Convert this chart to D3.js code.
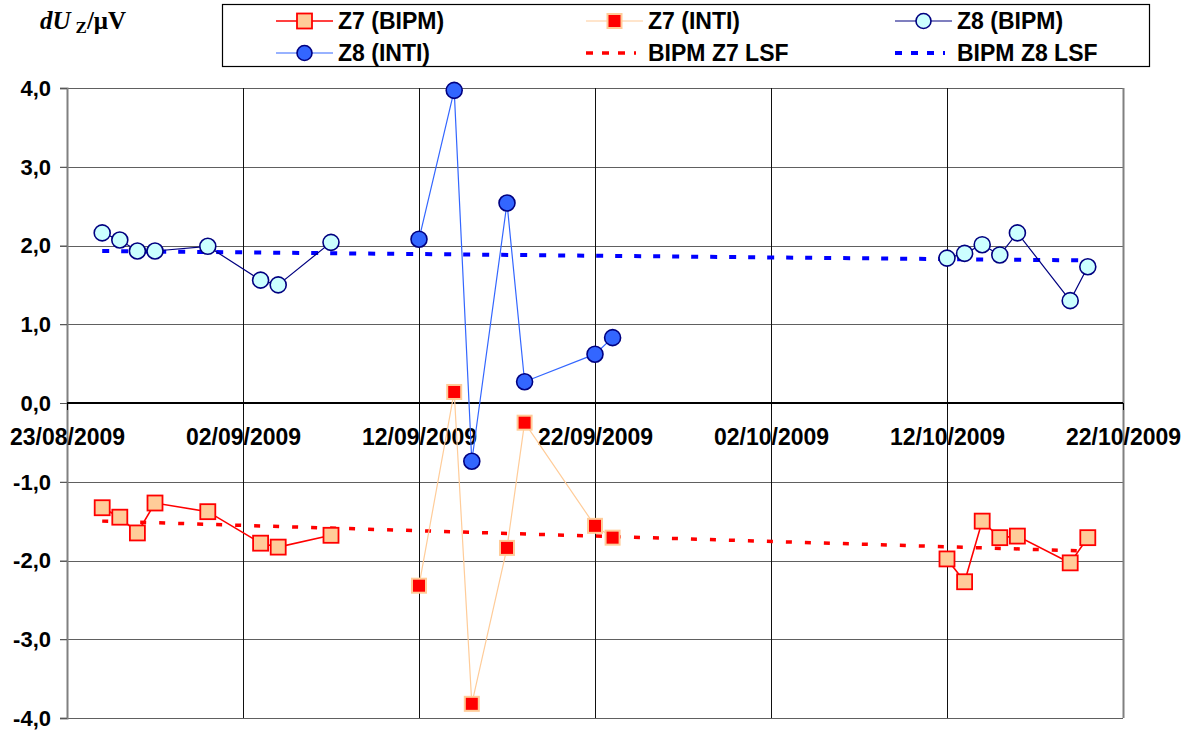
<!DOCTYPE html>
<html><head><meta charset="utf-8">
<script src="https://cdn.jsdelivr.net/npm/d3@7"></script>
<style>
html,body{margin:0;padding:0;background:#fff;}
svg{display:block;}
text{font-family:"Liberation Sans",Arial,sans-serif;font-weight:bold;}
</style></head>
<body>
<svg id="chart" width="1190" height="730"></svg>
<script>
// ---- data ----
const xTickDates = ["2009-08-23","2009-09-02","2009-09-12","2009-09-22","2009-10-02","2009-10-12","2009-10-22"];
const xTickLabels = ["23/08/2009","02/09/2009","12/09/2009","22/09/2009","02/10/2009","12/10/2009","22/10/2009"];
const yTickValues = [-4,-3,-2,-1,0,1,2,3,4];
const yTickLabels = ["-4,0","-3,0","-2,0","-1,0","0,0","1,0","2,0","3,0","4,0"];

// BIPM dates (null = gap between the two BIPM campaigns)
const bipmDates = ["2009-08-25","2009-08-26","2009-08-27","2009-08-28","2009-08-31","2009-09-03","2009-09-04","2009-09-07",null,
                   "2009-10-12","2009-10-13","2009-10-14","2009-10-15","2009-10-16","2009-10-19","2009-10-20"];
const z7Bipm = [-1.33,-1.45,-1.65,-1.27,-1.38,-1.78,-1.83,-1.68,null,-1.98,-2.27,-1.50,-1.71,-1.69,-2.03,-1.71];
const z8Bipm = [2.16,2.07,1.93,1.93,1.99,1.56,1.50,2.04,null,1.84,1.90,2.01,1.88,2.16,1.30,1.73];

const intiDates = ["2009-09-12","2009-09-14","2009-09-15","2009-09-17","2009-09-18","2009-09-22","2009-09-23"];
const z7Inti = [-2.32,0.14,-3.82,-1.84,-0.25,-1.56,-1.71];
const z8Inti = [2.08,3.97,-0.74,2.54,0.27,0.62,0.83];

const lsfDates = ["2009-08-25","2009-10-20"];
const z7Lsf = [-1.50,-1.88];
const z8Lsf = [1.93,1.81];

const legendNames = ["Z7 (BIPM)","Z7 (INTI)","Z8 (BIPM)","Z8 (INTI)","BIPM Z7 LSF","BIPM Z8 LSF"];

// ---- setup ----
const parse = d3.utcParse("%Y-%m-%d");
const svg = d3.select("#chart");
const L = 67, R = 1123, T = 88, B = 718;
const x = d3.scaleUtc().domain([parse(xTickDates[0]), parse(xTickDates[xTickDates.length-1])]).range([L, R]);
const y = d3.scaleLinear().domain([-4, 4]).range([B, T]);
const crisp = v => Math.round(v) + 0.5;

const mk = (dates, vals) => dates.map((d,i)=>({date: d? parse(d): null, v: vals[i]}));

// grid: horizontal
const gy = svg.append("g");
gy.selectAll("line").data(yTickValues.filter(v=>v!==0)).join("line")
  .attr("x1", L-7).attr("x2", R).attr("y1", d=>crisp(y(d))).attr("y2", d=>crisp(y(d)))
  .attr("stroke", "#606060").attr("stroke-width", 1.2);
// grid: vertical
const gx = svg.append("g");
gx.selectAll("line").data(xTickDates.slice(1)).join("line")
  .attr("x1", d=>crisp(x(parse(d)))).attr("x2", d=>crisp(x(parse(d)))).attr("y1", T).attr("y2", B)
  .attr("stroke", (d,i)=> i===xTickDates.length-2 ? "#808080":"#111")
  .attr("stroke-width", (d,i)=> i===xTickDates.length-2 ? 2:1);

// left axis
const yAxis = d3.axisLeft(y).tickValues(yTickValues).tickSize(7).tickFormat((d,i)=>yTickLabels[i]);
const ya = svg.append("g").attr("transform", `translate(${L},0)`).call(yAxis);
ya.select(".domain").attr("stroke","#808080").attr("stroke-width",2);
ya.selectAll(".tick line").attr("stroke","#555");
ya.selectAll(".tick text").attr("font-size", 22).attr("font-family", '"Liberation Sans",Arial,sans-serif')
  .attr("font-weight","bold").attr("fill","#000").attr("x", -16).attr("dy","0.33em");

// x axis at y=0
const xAxis = d3.axisBottom(x).tickValues(xTickDates.map(parse)).tickSize(7).tickFormat((d,i)=>xTickLabels[i]);
const xa = svg.append("g").attr("transform", `translate(0,${y(0)})`).call(xAxis);
xa.select(".domain").attr("stroke","#000").attr("stroke-width",2).attr("d", `M${L},0H${R}`);
xa.selectAll(".tick line").attr("stroke","#000");
xa.selectAll(".tick text").attr("font-size", 23).attr("font-family", '"Liberation Sans",Arial,sans-serif')
  .attr("font-weight","bold").attr("fill","#000").attr("y", 26).attr("dy","0.71em");

// LSF lines
const lineGen = d3.line().defined(d=>d.date!==null && d.v!==null).x(d=>x(d.date)).y(d=>y(d.v));
svg.append("path").datum(mk(lsfDates, z8Lsf)).attr("d", lineGen)
  .attr("fill","none").attr("stroke","#0000ff").attr("stroke-width",4).attr("stroke-dasharray","7,12");
svg.append("path").datum(mk(lsfDates, z7Lsf)).attr("d", lineGen)
  .attr("fill","none").attr("stroke","#ff0000").attr("stroke-width",3.5).attr("stroke-dasharray","6,13");

// series
function drawLine(data, color, w){
  svg.append("path").datum(data).attr("d", lineGen).attr("fill","none").attr("stroke",color).attr("stroke-width",w);
}
function drawCircles(data, fill, stroke){
  svg.append("g").selectAll("circle").data(data.filter(d=>d.date)).join("circle")
    .attr("cx", d=>x(d.date)).attr("cy", d=>y(d.v)).attr("r", 8)
    .attr("fill", fill).attr("stroke", stroke).attr("stroke-width", 1.6);
}
function drawSquares(data, fill, stroke, s, sw){
  svg.append("g").selectAll("rect").data(data.filter(d=>d.date)).join("rect")
    .attr("x", d=>x(d.date)-s/2).attr("y", d=>y(d.v)-s/2).attr("width", s).attr("height", s)
    .attr("fill", fill).attr("stroke", stroke).attr("stroke-width", sw);
}
const dZ7b = mk(bipmDates, z7Bipm), dZ8b = mk(bipmDates, z8Bipm);
const dZ7i = mk(intiDates, z7Inti), dZ8i = mk(intiDates, z8Inti);

drawLine(dZ7i, "#ffcc99", 1.2);
drawSquares(dZ7i, "#ff0000", "#ffcc99", 14, 2);
drawLine(dZ8i, "#3366ff", 1.2);
drawCircles(dZ8i, "#3366ff", "#000080");
drawLine(dZ7b, "#ff0000", 1.6);
drawSquares(dZ7b, "#ffcc99", "#ff0000", 15, 1.8);
drawLine(dZ8b, "#000080", 1.2);
drawCircles(dZ8b, "#ccffff", "#000080");

// legend
const lg = svg.append("g");
lg.append("rect").attr("x",222.5).attr("y",4.5).attr("width",927).attr("height",62)
  .attr("fill","#fff").attr("stroke","#000").attr("stroke-width",1.2);
const colX = [276, 586, 895], rowY = [21, 53];
const legendStyles = [
  {line:"#ff0000", lw:1.6, m:"sq", fill:"#ffcc99", stroke:"#ff0000", s:15, sw:1.8},
  {line:"#ffcc99", lw:1.2, m:"sq", fill:"#ff0000", stroke:"#ffcc99", s:14, sw:2},
  {line:"#000080", lw:1.2, m:"ci", fill:"#ccffff", stroke:"#000080"},
  {line:"#3366ff", lw:1.2, m:"ci", fill:"#3366ff", stroke:"#000080"},
  {dash:"#ff0000", dw:3.5},
  {dash:"#0000ff", dw:4}
];
legendNames.forEach((name,i)=>{
  const cx = colX[i%3], cy = rowY[Math.floor(i/3)];
  const st = legendStyles[i];
  const g = lg.append("g");
  if (st.dash){
    g.append("line").attr("x1",cx).attr("x2",cx+50).attr("y1",cy).attr("y2",cy)
      .attr("stroke",st.dash).attr("stroke-width",st.dw).attr("stroke-dasharray","7,9");
  } else {
    g.append("line").attr("x1",cx).attr("x2",cx+57).attr("y1",cy).attr("y2",cy)
      .attr("stroke",st.line).attr("stroke-width",st.lw);
    if (st.m==="sq") g.append("rect").attr("x",cx+28.5-st.s/2).attr("y",cy-st.s/2).attr("width",st.s).attr("height",st.s)
      .attr("fill",st.fill).attr("stroke",st.stroke).attr("stroke-width",st.sw);
    else g.append("circle").attr("cx",cx+28.5).attr("cy",cy).attr("r",7.5)
      .attr("fill",st.fill).attr("stroke",st.stroke).attr("stroke-width",1.6);
  }
  g.append("text").attr("x",cx+62).attr("y",cy).attr("dy","0.36em").attr("font-size",23).text(name);
});

// y-axis unit label
const yl = svg.append("text").attr("x",40).attr("y",29)
  .style("font-family",'"Liberation Serif","Times New Roman",serif').attr("font-weight","bold").attr("font-size",25);
yl.append("tspan").attr("font-style","italic").text("dU");
yl.append("tspan").attr("font-size",17).attr("dy",4).attr("dx",5).text("Z");
yl.append("tspan").attr("dy",-4).text("/μV");
</script>
</body></html>
